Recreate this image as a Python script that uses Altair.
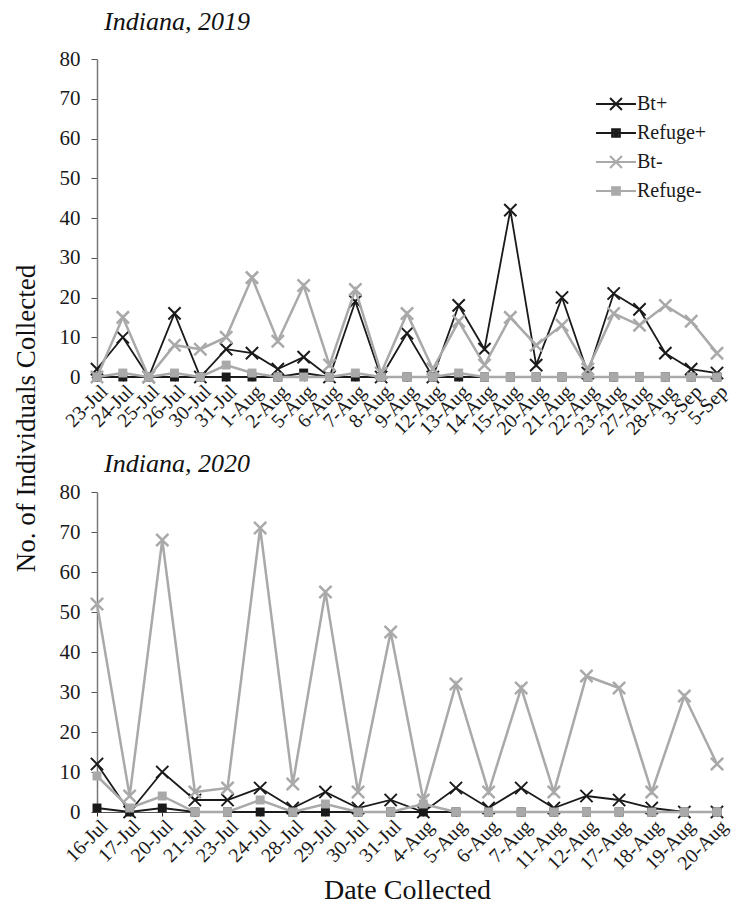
import altair as alt
import pandas as pd

# ---------------- data ----------------
series_names = ["Bt+", "Refuge+", "Bt-", "Refuge-"]

dates_2019 = ["23-Jul", "24-Jul", "25-Jul", "26-Jul", "30-Jul", "31-Jul", "1-Aug", "2-Aug",
              "5-Aug", "6-Aug", "7-Aug", "8-Aug", "9-Aug", "12-Aug", "13-Aug", "14-Aug",
              "15-Aug", "20-Aug", "21-Aug", "22-Aug", "23-Aug", "27-Aug", "28-Aug", "3-Sep", "5-Sep"]
bt_pos_2019 = [2, 10, 0, 16, 0, 7, 6, 2, 5, 0, 19, 0, 11, 0, 18, 7, 42, 3, 20, 1, 21, 17, 6, 2, 1]
refuge_pos_2019 = [0, 0, 0, 0, 0, 0, 0, 0, 1, 0, 0, 0, 0, 0, 0, 0, 0, 0, 0, 0, 0, 0, 0, 0, 0]
bt_neg_2019 = [0, 15, 0, 8, 7, 10, 25, 9, 23, 3, 22, 1, 16, 2, 14, 3, 15, 8, 13, 2, 16, 13, 18, 14, 6]
refuge_neg_2019 = [0, 1, 0, 1, 0, 3, 1, 0, 0, 0, 1, 0, 0, 0, 1, 0, 0, 0, 0, 0, 0, 0, 0, 0, 0]

dates_2020 = ["16-Jul", "17-Jul", "20-Jul", "21-Jul", "23-Jul", "24-Jul", "28-Jul", "29-Jul",
              "30-Jul", "31-Jul", "4-Aug", "5-Aug", "6-Aug", "7-Aug", "11-Aug", "12-Aug",
              "17-Aug", "18-Aug", "19-Aug", "20-Aug"]
bt_pos_2020 = [12, 0, 10, 3, 3, 6, 1, 5, 1, 3, 0, 6, 1, 6, 1, 4, 3, 1, 0, 0]
refuge_pos_2020 = [1, 0, 1, 0, 0, 0, 0, 0, 0, 0, 0, 0, 0, 0, 0, 0, 0, 0, 0, 0]
bt_neg_2020 = [52, 4, 68, 5, 6, 71, 7, 55, 5, 45, 3, 32, 5, 31, 5, 34, 31, 5, 29, 12]
refuge_neg_2020 = [9, 1, 4, 0, 0, 3, 0, 2, 0, 0, 2, 0, 0, 0, 0, 0, 0, 0, 0, 0]

y_ticks = [0, 10, 20, 30, 40, 50, 60, 70, 80]

# ---------------- styling ----------------
FONT = "Liberation Serif"
BLACK = "#1a1a1a"
GREY = "#a9a9a9"
X_PATH = "M-1,-1L1,1M-1,1L1,-1"
LEG_X = "M-2.85,0H2.85M-0.85,-0.85L0.85,0.85M-0.85,0.85L0.85,-0.85"
LEG_SQ = "M-2.85,0H2.85M-0.55,-0.55H0.55V0.55H-0.55ZM-0.25,-0.25H0.25V0.25H-0.25Z"
PANEL_W = 620


def make_df(dates, vals):
    rows = []
    for name, v in zip(series_names, vals):
        for d, val in zip(dates, v):
            rows.append({"date": d, "series": name, "value": val})
    return pd.DataFrame(rows)


df19 = make_df(dates_2019, [bt_pos_2019, refuge_pos_2019, bt_neg_2019, refuge_neg_2019])
df20 = make_df(dates_2020, [bt_pos_2020, refuge_pos_2020, bt_neg_2020, refuge_neg_2020])


def panel(df, dates, title, title_offset, height, first):
    xenc = alt.X(
        "date:N", sort=dates,
        scale=alt.Scale(type="point", padding=0),
        axis=alt.Axis(
            title="Date Collected" if not first else None,
            labelAngle=-45, labelAlign="right", labelBaseline="top",
            labelFontSize=20, labelPadding=0,
            tickSize=4, tickColor="#222", domainColor="#555",
            titleFontSize=28, titleFontWeight="normal", titlePadding=3,
        ),
    )
    yaxis = alt.Axis(
        values=y_ticks, grid=False, labelFontSize=21, tickSize=6,
        tickColor="#555", domainColor="#777", domainWidth=1.5, labelPadding=11,
        title="No. of Individuals Collected" if first else None,
        titleFontSize=27, titleFontWeight="normal",
        titleX=-57, titleY=359, titleAngle=-90, titleAlign="center",
        titleBaseline="bottom",
    )
    yenc = alt.Y("value:Q", scale=alt.Scale(domain=[0, 80]), axis=yaxis)
    base = alt.Chart(df).encode(x=xenc, y=yenc)

    def filt(names):
        return "indexof(" + str(names) + ", datum.series) >= 0"

    black_lines = base.transform_filter(filt(["Bt+", "Refuge+"])).mark_line(
        color=BLACK, strokeWidth=1.8).encode(detail="series:N")
    black_x = base.transform_filter(filt(["Bt+"])).mark_point(
        shape=X_PATH, filled=False, color=BLACK, strokeWidth=2, size=150, opacity=1)
    black_sq = base.transform_filter(filt(["Refuge+"])).mark_point(
        shape="square", filled=True, color=BLACK, size=80, opacity=1)
    grey_lines = base.transform_filter(filt(["Bt-", "Refuge-"])).mark_line(
        color=GREY, strokeWidth=2.5).encode(detail="series:N")
    grey_x = base.transform_filter(filt(["Bt-"])).mark_point(
        shape=X_PATH, filled=False, color=GREY, strokeWidth=2.5, size=150, opacity=1)
    grey_sq = base.transform_filter(filt(["Refuge-"])).mark_point(
        shape="square", filled=True, color=GREY, size=80, opacity=1)

    layers = [black_lines, black_x, black_sq, grey_lines, grey_x, grey_sq]

    if first:
        leg = alt.Legend(
            title=None, orient="none", legendX=509, legendY=35,
            symbolSize=196, symbolStrokeWidth=2, labelFontSize=20,
            labelOffset=11, rowPadding=9, padding=0, symbolOpacity=1,
        )
        legend_layer = base.transform_filter("datum.value < 0").mark_point(
            filled=False, strokeWidth=2).encode(
            shape=alt.Shape("series:N", scale=alt.Scale(
                domain=series_names, range=[LEG_X, LEG_SQ, LEG_X, LEG_SQ]), legend=leg),
            color=alt.Color("series:N", scale=alt.Scale(
                domain=series_names, range=[BLACK, BLACK, GREY, GREY]), legend=leg),
        )
        layers.append(legend_layer)

    return alt.layer(*layers).properties(
        width=PANEL_W, height=height,
        title=alt.TitleParams(title, anchor="start", frame="group", dx=7,
                              fontSize=26, fontStyle="italic", fontWeight="normal",
                              font=FONT, offset=title_offset, color="#111"),
    )


top = panel(df19, dates_2019, "Indiana, 2019", 13, 318, True)
bottom = panel(df20, dates_2020, "Indiana, 2020", 4, 320, False)

chart = alt.vconcat(top, bottom, spacing=115, bounds="flush").properties(
    padding={"left": 4, "top": 1, "right": 0, "bottom": 0}
).configure(
    font=FONT,
).configure_axis(
    labelFont=FONT, titleFont=FONT, labelColor="#1a1a1a", titleColor="#111",
).configure_legend(
    labelFont=FONT, labelColor="#1a1a1a",
).configure_view(stroke=None)

chart.save("out.html", embed_options={"renderer": "svg", "actions": False})
